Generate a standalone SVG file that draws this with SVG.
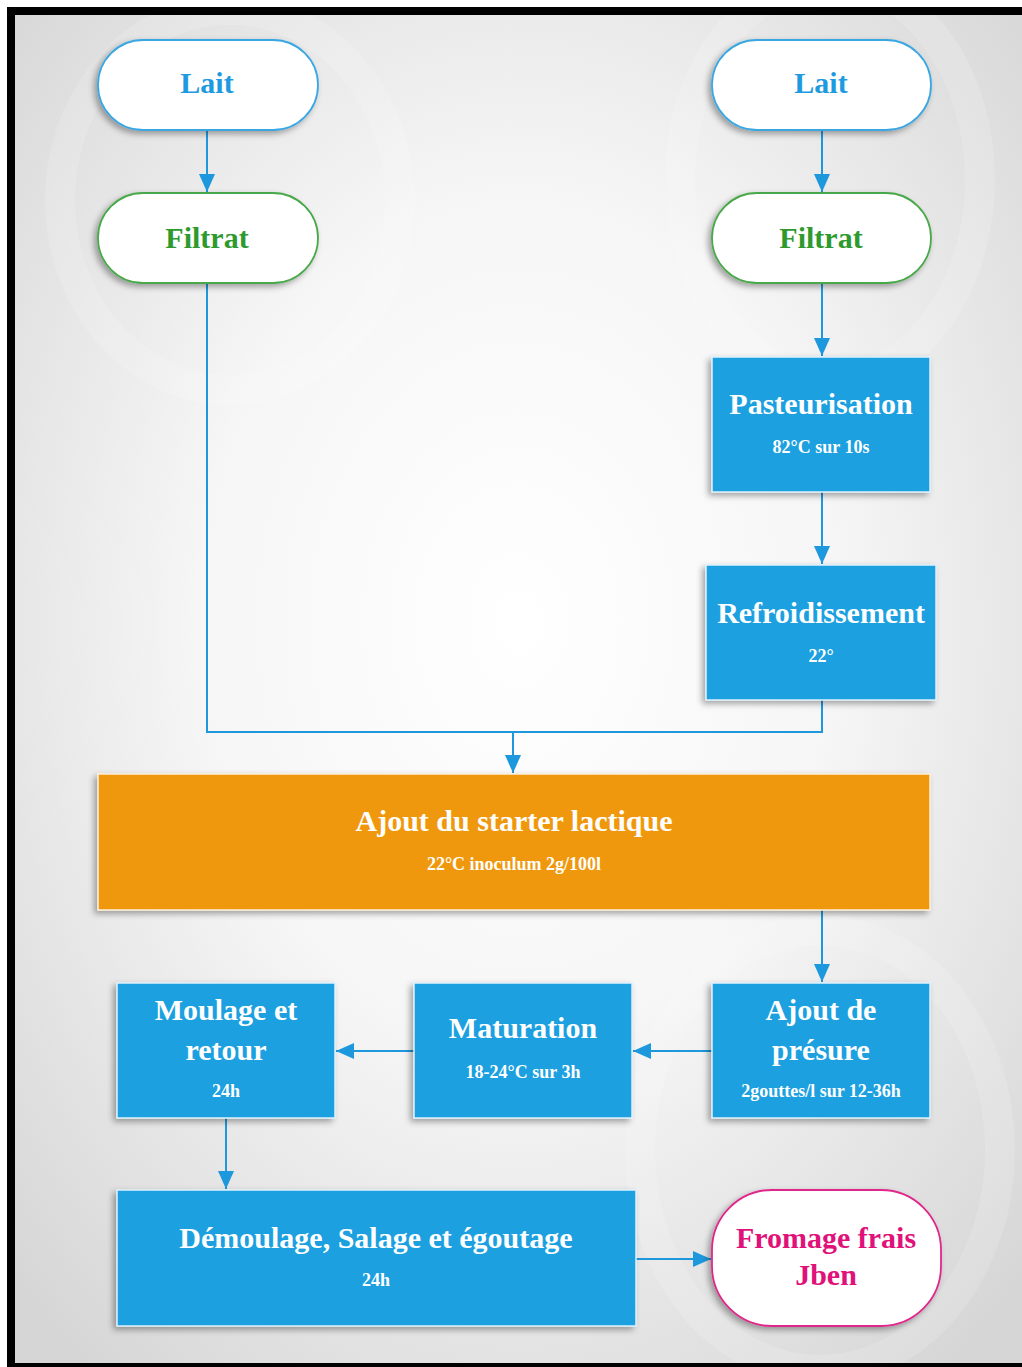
<svg xmlns="http://www.w3.org/2000/svg" width="1022" height="1367" viewBox="0 0 1022 1367">
<defs>
<radialGradient id="bg" cx="50%" cy="45%" r="70%">
<stop offset="0" stop-color="#ffffff"/>
<stop offset="0.45" stop-color="#f6f6f6"/>
<stop offset="1" stop-color="#d6d6d6"/>
</radialGradient>
<filter id="sh" x="-20%" y="-20%" width="140%" height="140%">
<feDropShadow dx="-3" dy="3" stdDeviation="3" flood-color="#000" flood-opacity="0.35"/>
</filter>
<marker id="arr" viewBox="0 0 18 16" refX="18" refY="8" markerWidth="18" markerHeight="16" markerUnits="userSpaceOnUse" orient="auto">
<path d="M0,0 L18,8 L0,16 Z" fill="#1e98dc"/>
</marker>
</defs>
<style>
.term{fill:#ffffff;stroke-width:1.8;filter:url(#sh)}
.blue{fill:#1ea0e0;stroke:#dff1fb;stroke-width:1.5;filter:url(#sh)}
.orange{fill:#f0980c;stroke:#fdf0dc;stroke-width:1.5;filter:url(#sh)}
.t{font-family:"Liberation Serif","Times New Roman",serif;font-weight:bold;text-anchor:middle}
.ti{font-size:30px;fill:#ffffff}
.sub{font-size:18px;fill:#ffffff}
.conn{fill:none;stroke:#1e98dc;stroke-width:2}
</style>
<rect x="0" y="0" width="1022" height="1367" fill="#ffffff"/>
<rect x="15" y="15" width="1007" height="1348" fill="url(#bg)"/>
<g opacity="0.15" fill="none" stroke="#ffffff" stroke-width="30">
<ellipse cx="230" cy="200" rx="170" ry="190"/>
<ellipse cx="830" cy="180" rx="150" ry="200"/>
<ellipse cx="820" cy="1150" rx="180" ry="220"/>
</g>
<rect x="7" y="7" width="1015" height="8" fill="#000"/>
<rect x="7" y="7" width="8" height="1360" fill="#000"/>
<rect x="7" y="1363" width="1015" height="4" fill="#000"/>

<g id="connectors">
<path class="conn" d="M207,130 V192" marker-end="url(#arr)"/>
<path class="conn" d="M822,130 V192" marker-end="url(#arr)"/>
<path class="conn" d="M822,283 V356" marker-end="url(#arr)"/>
<path class="conn" d="M822,492 V564" marker-end="url(#arr)"/>
<path class="conn" d="M207,283 V732 H822 V700"/>
<path class="conn" d="M513,732 V773" marker-end="url(#arr)"/>
<path class="conn" d="M822,910 V982" marker-end="url(#arr)"/>
<path class="conn" d="M712,1051 H633" marker-end="url(#arr)"/>
<path class="conn" d="M414,1051 H336" marker-end="url(#arr)"/>
<path class="conn" d="M226,1118 V1189" marker-end="url(#arr)"/>
<path class="conn" d="M636,1259 H711" marker-end="url(#arr)"/>
</g>

<g id="lait1">
<rect class="term" x="98" y="40" width="220" height="90" rx="45" stroke="#3aa7e2"/>
<text class="t" x="207" y="93" font-size="30" fill="#1e9be0">Lait</text>
</g>
<g id="lait2">
<rect class="term" x="712" y="40" width="219" height="90" rx="45" stroke="#3aa7e2"/>
<text class="t" x="821" y="93" font-size="30" fill="#1e9be0">Lait</text>
</g>
<g id="filtrat1">
<rect class="term" x="98" y="193" width="220" height="90" rx="45" stroke="#4aa84a"/>
<text class="t" x="207" y="248" font-size="30" fill="#2e9a2e">Filtrat</text>
</g>
<g id="filtrat2">
<rect class="term" x="712" y="193" width="219" height="90" rx="45" stroke="#4aa84a"/>
<text class="t" x="821" y="248" font-size="30" fill="#2e9a2e">Filtrat</text>
</g>
<g id="pasteurisation">
<rect class="blue" x="712" y="357" width="218" height="135"/>
<text class="t ti" x="821" y="414">Pasteurisation</text>
<text class="t sub" x="821" y="453">82°C sur 10s</text>
</g>
<g id="refroidissement">
<rect class="blue" x="706" y="565" width="230" height="135"/>
<text class="t ti" x="821" y="623">Refroidissement</text>
<text class="t sub" x="821" y="662">22°</text>
</g>
<g id="starter">
<rect class="orange" x="98" y="774" width="832" height="136"/>
<text class="t ti" x="514" y="831">Ajout du starter lactique</text>
<text class="t sub" x="514" y="870">22°C inoculum 2g/100l</text>
</g>
<g id="presure">
<rect class="blue" x="712" y="983" width="218" height="135"/>
<text class="t ti" x="821" y="1020">Ajout de</text>
<text class="t ti" x="821" y="1060">présure</text>
<text class="t sub" x="821" y="1097">2gouttes/l sur 12-36h</text>
</g>
<g id="maturation">
<rect class="blue" x="414" y="983" width="218" height="135"/>
<text class="t ti" x="523" y="1038">Maturation</text>
<text class="t sub" x="523" y="1078">18-24°C sur 3h</text>
</g>
<g id="moulage">
<rect class="blue" x="117" y="983" width="218" height="135"/>
<text class="t ti" x="226" y="1020">Moulage et</text>
<text class="t ti" x="226" y="1060">retour</text>
<text class="t sub" x="226" y="1097">24h</text>
</g>
<g id="demoulage">
<rect class="blue" x="117" y="1190" width="519" height="136"/>
<text class="t ti" x="376" y="1248">Démoulage, Salage et égoutage</text>
<text class="t sub" x="376" y="1286">24h</text>
</g>
<g id="fromage">
<rect class="term" x="712" y="1190" width="229" height="136" rx="60" ry="60" stroke="#e0288a"/>
<text class="t" x="826" y="1248" font-size="30" fill="#e0127a">Fromage frais</text>
<text class="t" x="826" y="1285" font-size="30" fill="#e0127a">Jben</text>
</g>
</svg>
